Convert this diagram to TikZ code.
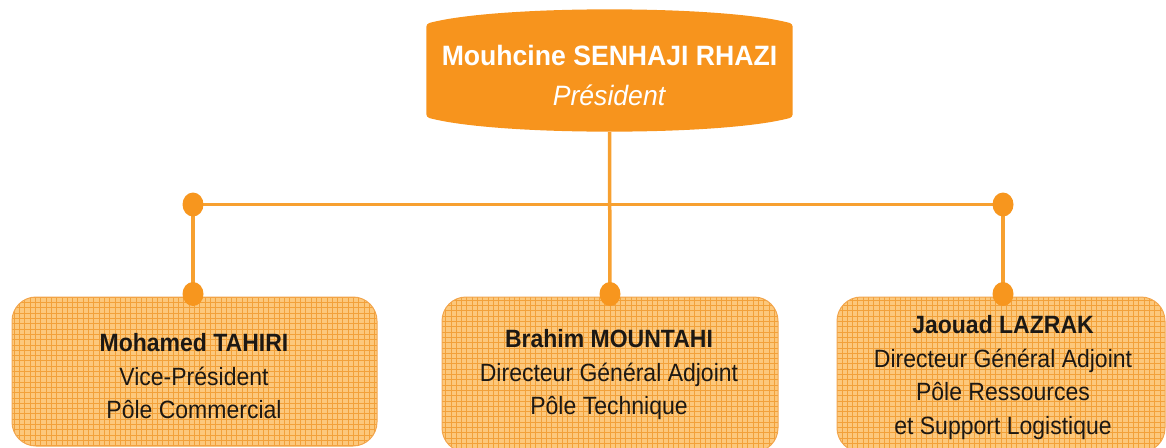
\documentclass[tikz,border=0pt]{standalone}
\usepackage{fontspec}
\setmainfont{Liberation Sans}
\newfontfamily\rolefont[FakeStretch=0.92]{Liberation Sans}
\newfontfamily\headfont[FakeStretch=0.95]{Liberation Sans}
\usetikzlibrary{calc,shapes.geometric}
\pgfdeclarelayer{bg}
\pgfsetlayers{bg,main}

\definecolor{headfill}{HTML}{F7941D}
\definecolor{boxfill}{HTML}{FCC87C}
\definecolor{gridcol}{HTML}{F2A13A}
\definecolor{boxedge}{HTML}{F2A54C}
\definecolor{linkcol}{HTML}{F7A030}
\definecolor{dotcol}{HTML}{F7961E}
\definecolor{inkcol}{HTML}{1C1814}

\tikzset{
  x=1pt, y=-1pt,
  headshape/.style={rectangle, inner sep=0pt, minimum width=366pt, minimum height=123pt},
  headtext/.style={align=center, text=white, font=\headfont\fontsize{28}{40}\selectfont},
  rolebox/.style={rectangle, rounded corners=24pt, fill=boxfill, draw=boxedge,
    line width=1pt, inner sep=0pt,
    path picture={\draw[gridcol, line width=0.9pt]
      (path picture bounding box.south west) grid[step=5.3pt]
      (path picture bounding box.north east);}},
  roletext/.style={align=center, text=inkcol, font=\rolefont\fontsize{25}{33.5}\selectfont},
  link/.style={draw=linkcol, line width=3.5pt},
  joint/.style={ellipse, fill=dotcol, inner sep=0pt, minimum width=21pt, minimum height=24pt},
}

\begin{document}
\begin{tikzpicture}
\useasboundingbox (0,0) rectangle (1166,447);
\clip (0,0) rectangle (1166,447);

% president block
\node[headshape] (pres) at (609.5,70.5) {};
\begin{pgfonlayer}{bg}
  \fill[headfill, rounded corners=3pt]
    ($(pres.north west)+(0,15)$)
      .. controls ($(pres.north west)+(70,-4)$) and ($(pres.north east)+(-70,-4)$) ..
    ($(pres.north east)+(0,15)$)
    -- ($(pres.south east)+(0,-15)$)
      .. controls ($(pres.south east)+(-70,4)$) and ($(pres.south west)+(70,4)$) ..
    ($(pres.south west)+(0,-15)$) -- cycle;
\end{pgfonlayer}
\node[headtext] (prestext) at (609.5,75) {\textbf{Mouhcine SENHAJI RHAZI}\\\textit{Président}};

% team boxes
\node[rolebox, minimum width=365pt, minimum height=149pt] (boxl) at (194.5,371.5) {};
\node[rolebox, minimum width=336pt, minimum height=155pt] (boxm) at (610,374.5) {};
\node[rolebox, minimum width=328pt, minimum height=155pt] (boxr) at (1001,374.5) {};

\node[roletext] (tahiri) at (194,376.5)
  {\textbf{Mohamed TAHIRI}\\Vice-Président\\Pôle Commercial};
\node[roletext] (mountahi) at (609,375)
  {\textbf{Brahim MOUNTAHI}\\Directeur Général Adjoint\\Pôle Technique};
\node[roletext] (lazrak) at (1003,377.5)
  {\textbf{Jaouad LAZRAK}\\Directeur Général Adjoint\\Pôle Ressources\\et Support Logistique};

% joints on the connector bar and on the boxes
\node[joint] (jl) at (193,204.5) {};
\node[joint] (jr) at (1003,204.5) {};
\node[joint] (jbl) at (193,294) {};
\node[joint] (jbm) at (610,294) {};
\node[joint] (jbr) at (1003,294) {};

% connectors
\begin{pgfonlayer}{bg}
  \draw[link] (jl.center) -- (jr.center);
  \draw[link] (pres.south) -- (jbm.center);
  \draw[link] (jl.center) -- (jbl.center);
  \draw[link] (jr.center) -- (jbr.center);
\end{pgfonlayer}
\end{tikzpicture}
\end{document}
